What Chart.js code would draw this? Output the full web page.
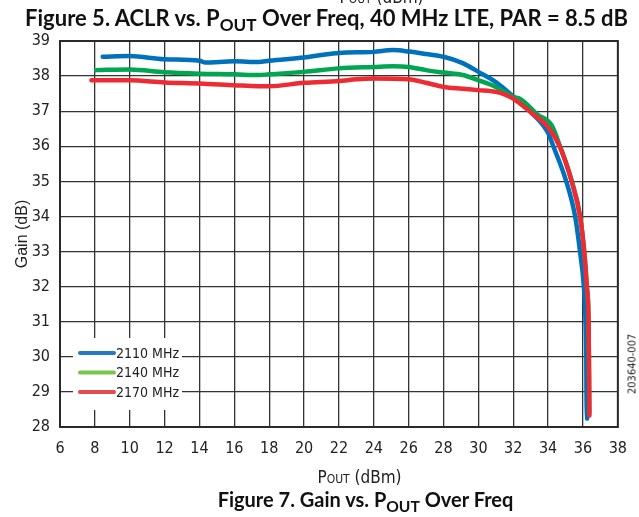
<!DOCTYPE html>
<html>
<head>
<meta charset="utf-8">
<script src="https://cdn.jsdelivr.net/npm/chart.js@4.4.1/dist/chart.umd.min.js"></script>
<style>
  body { margin: 0; background: #fff; }
  #wrap { position: relative; width: 639px; height: 517px; overflow: hidden; }
  #chart { position: absolute; left: 0; top: 0; }
  .cap { position: absolute; left: 0; width: 639px; text-align: center; font-family: Lato, 'Open Sans', sans-serif; font-weight: bold; color: #111; white-space: nowrap; }
  .cap sub { font-size: 0.78em; vertical-align: -0.32em; line-height: 0; }
  .axt { position: absolute; left: 0; width: 639px; text-align: center; font-family: 'Liberation Sans Narrow', 'DejaVu Sans Condensed', sans-serif; font-size: 17px; color: #222; white-space: nowrap; }
  .axt span { font-size: 12px; }
  #code { position: absolute; left: 624px; top: 364px; width: 0; height: 0; }
  #code div { position: absolute; transform: translate(-50%, -50%) rotate(-90deg); font-family: 'Liberation Sans Narrow', 'DejaVu Sans Condensed', sans-serif; font-size: 11px; color: #222; white-space: nowrap; left: 8px; }
</style>
</head>
<body>
<div id="wrap">
  <canvas id="chart" width="639" height="517"></canvas>
  <div class="axt" style="top:-13px; left:62px;">P<span>OUT</span> (dBm)</div>
  <div class="cap" style="top:4px; left:7px; font-size:22px;">Figure 5. ACLR vs. P<sub>OUT</sub> Over Freq, 40 MHz LTE, PAR = 8.5 dB</div>
  <div class="axt" style="top:467px; left:40px;">P<span>OUT</span> (dBm)</div>
  <div class="cap" style="top:487px; left:46px; font-size:20px;">Figure 7. Gain vs. P<sub>OUT</sub> Over Freq</div>
  <div id="code"><div>203640-007</div></div>
</div>
<script>
// values
const freqLabels = ['2110 MHz', '2140 MHz', '2170 MHz'];

const pout2110 = [8.45, 10, 12, 14, 14.3, 16, 17.4, 18, 20, 21.1, 22, 24, 25.1, 26, 27, 28, 29.1, 30, 31, 32, 33, 34, 34.3, 35.04, 35.55, 35.83, 36.05, 36.15, 36.19, 36.2, 36.24];
const gain2110 = [38.55, 38.57, 38.48, 38.44, 38.39, 38.42, 38.40, 38.44, 38.53, 38.61, 38.66, 38.69, 38.74, 38.70, 38.63, 38.55, 38.37, 38.12, 37.83, 37.42, 36.98, 36.38, 36.0, 35.0, 34.0, 33.0, 32.0, 31.0, 30.0, 29.0, 28.24];

const pout2140 = [8.07, 10, 12, 14, 16, 17.4, 18, 20, 22, 24, 25.1, 26, 27, 28, 29.1, 30, 31, 32, 32.4, 33.4, 34.2, 34.66, 35.35, 35.83, 36.07, 36.22, 36.32, 36.34, 36.35, 36.36];
const gain2140 = [38.17, 38.19, 38.11, 38.07, 38.05, 38.03, 38.05, 38.12, 38.22, 38.26, 38.28, 38.26, 38.17, 38.10, 38.03, 37.88, 37.69, 37.40, 37.35, 36.90, 36.60, 36.03, 35.02, 34.02, 33.0, 32.0, 31.0, 30.0, 29.0, 28.4];

const pout2170 = [7.8, 10, 12, 14, 16, 17.4, 18, 20, 22, 23, 24, 26, 27, 28, 29.1, 30, 31, 31.5, 32, 33, 34, 34.66, 35.35, 35.83, 36.07, 36.22, 36.32, 36.34, 36.36, 36.37];
const gain2170 = [37.88, 37.88, 37.82, 37.79, 37.74, 37.71, 37.71, 37.81, 37.86, 37.91, 37.93, 37.91, 37.81, 37.69, 37.64, 37.60, 37.55, 37.48, 37.36, 36.97, 36.54, 36.0, 35.0, 34.0, 33.0, 32.0, 31.0, 30.0, 29.0, 28.33];

const lineColors = ['#0071bd', '#00a651', '#ee2b32'];
const legendColors = ['#2479c8', '#7ac44c', '#e54a4c'];

const narrow = "'Liberation Sans Narrow', 'DejaVu Sans Condensed', sans-serif";

function pts(xs, ys) {
  return xs.map((x, i) => ({ x: x, y: ys[i] }));
}

// frame + legend box inside the plot
const extras = {
  id: 'extras',
  beforeDatasetsDraw(chart) {
    const { ctx, chartArea: a } = chart;
    ctx.save();
    ctx.strokeStyle = '#2a2a2a';
    ctx.lineWidth = 2;
    ctx.strokeRect(a.left, a.top, a.right - a.left, a.bottom - a.top);
    // white box the legend sits in
    ctx.fillStyle = '#fff';
    ctx.fillRect(a.left + 13, 338, 109, 72);
    ctx.restore();
  },
  afterDraw(chart) {
    const ctx = chart.ctx;
    ctx.save();
    ctx.lineCap = 'round';
    ctx.lineWidth = 4;
    ctx.font = '14px ' + narrow;
    ctx.textBaseline = 'middle';
    ctx.fillStyle = '#222';
    freqLabels.forEach((lab, i) => {
      const y = 353 + i * 19.5;
      ctx.strokeStyle = legendColors[i];
      ctx.beginPath();
      ctx.moveTo(80, y);
      ctx.lineTo(114, y);
      ctx.stroke();
      ctx.fillText(lab, 116, y + 1);
    });
    ctx.restore();
  }
};

const ctx = document.getElementById('chart').getContext('2d');
const myChart = new Chart(ctx, {
  type: 'line',
  data: {
    datasets: [
      { label: freqLabels[0], data: pts(pout2110, gain2110), borderColor: lineColors[0], order: 3 },
      { label: freqLabels[1], data: pts(pout2140, gain2140), borderColor: lineColors[1], order: 2 },
      { label: freqLabels[2], data: pts(pout2170, gain2170), borderColor: lineColors[2], order: 1 }
    ]
  },
  options: {
    responsive: false,
    animation: false,
    layout: { padding: { top: 41, right: 15, left: 0, bottom: 0 } },
    elements: {
      point: { radius: 0 },
      line: { borderWidth: 4.5, cubicInterpolationMode: 'monotone', borderCapStyle: 'round', borderJoinStyle: 'round' }
    },
    plugins: {
      legend: { display: false },
      tooltip: { enabled: false }
    },
    scales: {
      x: {
        type: 'linear',
        min: 6,
        max: 38,
        ticks: { stepSize: 2, padding: 12, color: '#222', font: { family: narrow, size: 16 } },
        grid: { color: '#333', lineWidth: 1.3, drawTicks: false },
        border: { color: '#333', width: 2 },
        afterFit: s => { s.height = 90; }
      },
      y: {
        min: 28,
        max: 39,
        ticks: { stepSize: 1, padding: 10, color: '#222', font: { family: narrow, size: 16 } },
        grid: { color: '#333', lineWidth: 1.3, drawTicks: false },
        border: { color: '#333', width: 2 },
        title: { display: true, text: 'Gain (dB)', color: '#222', font: { family: 'Liberation Sans, Arial, sans-serif', size: 16 }, padding: { top: 13, bottom: 0 } },
        afterFit: s => { s.width = 60; }
      }
    }
  },
  plugins: [extras]
});
</script>
</body>
</html>
